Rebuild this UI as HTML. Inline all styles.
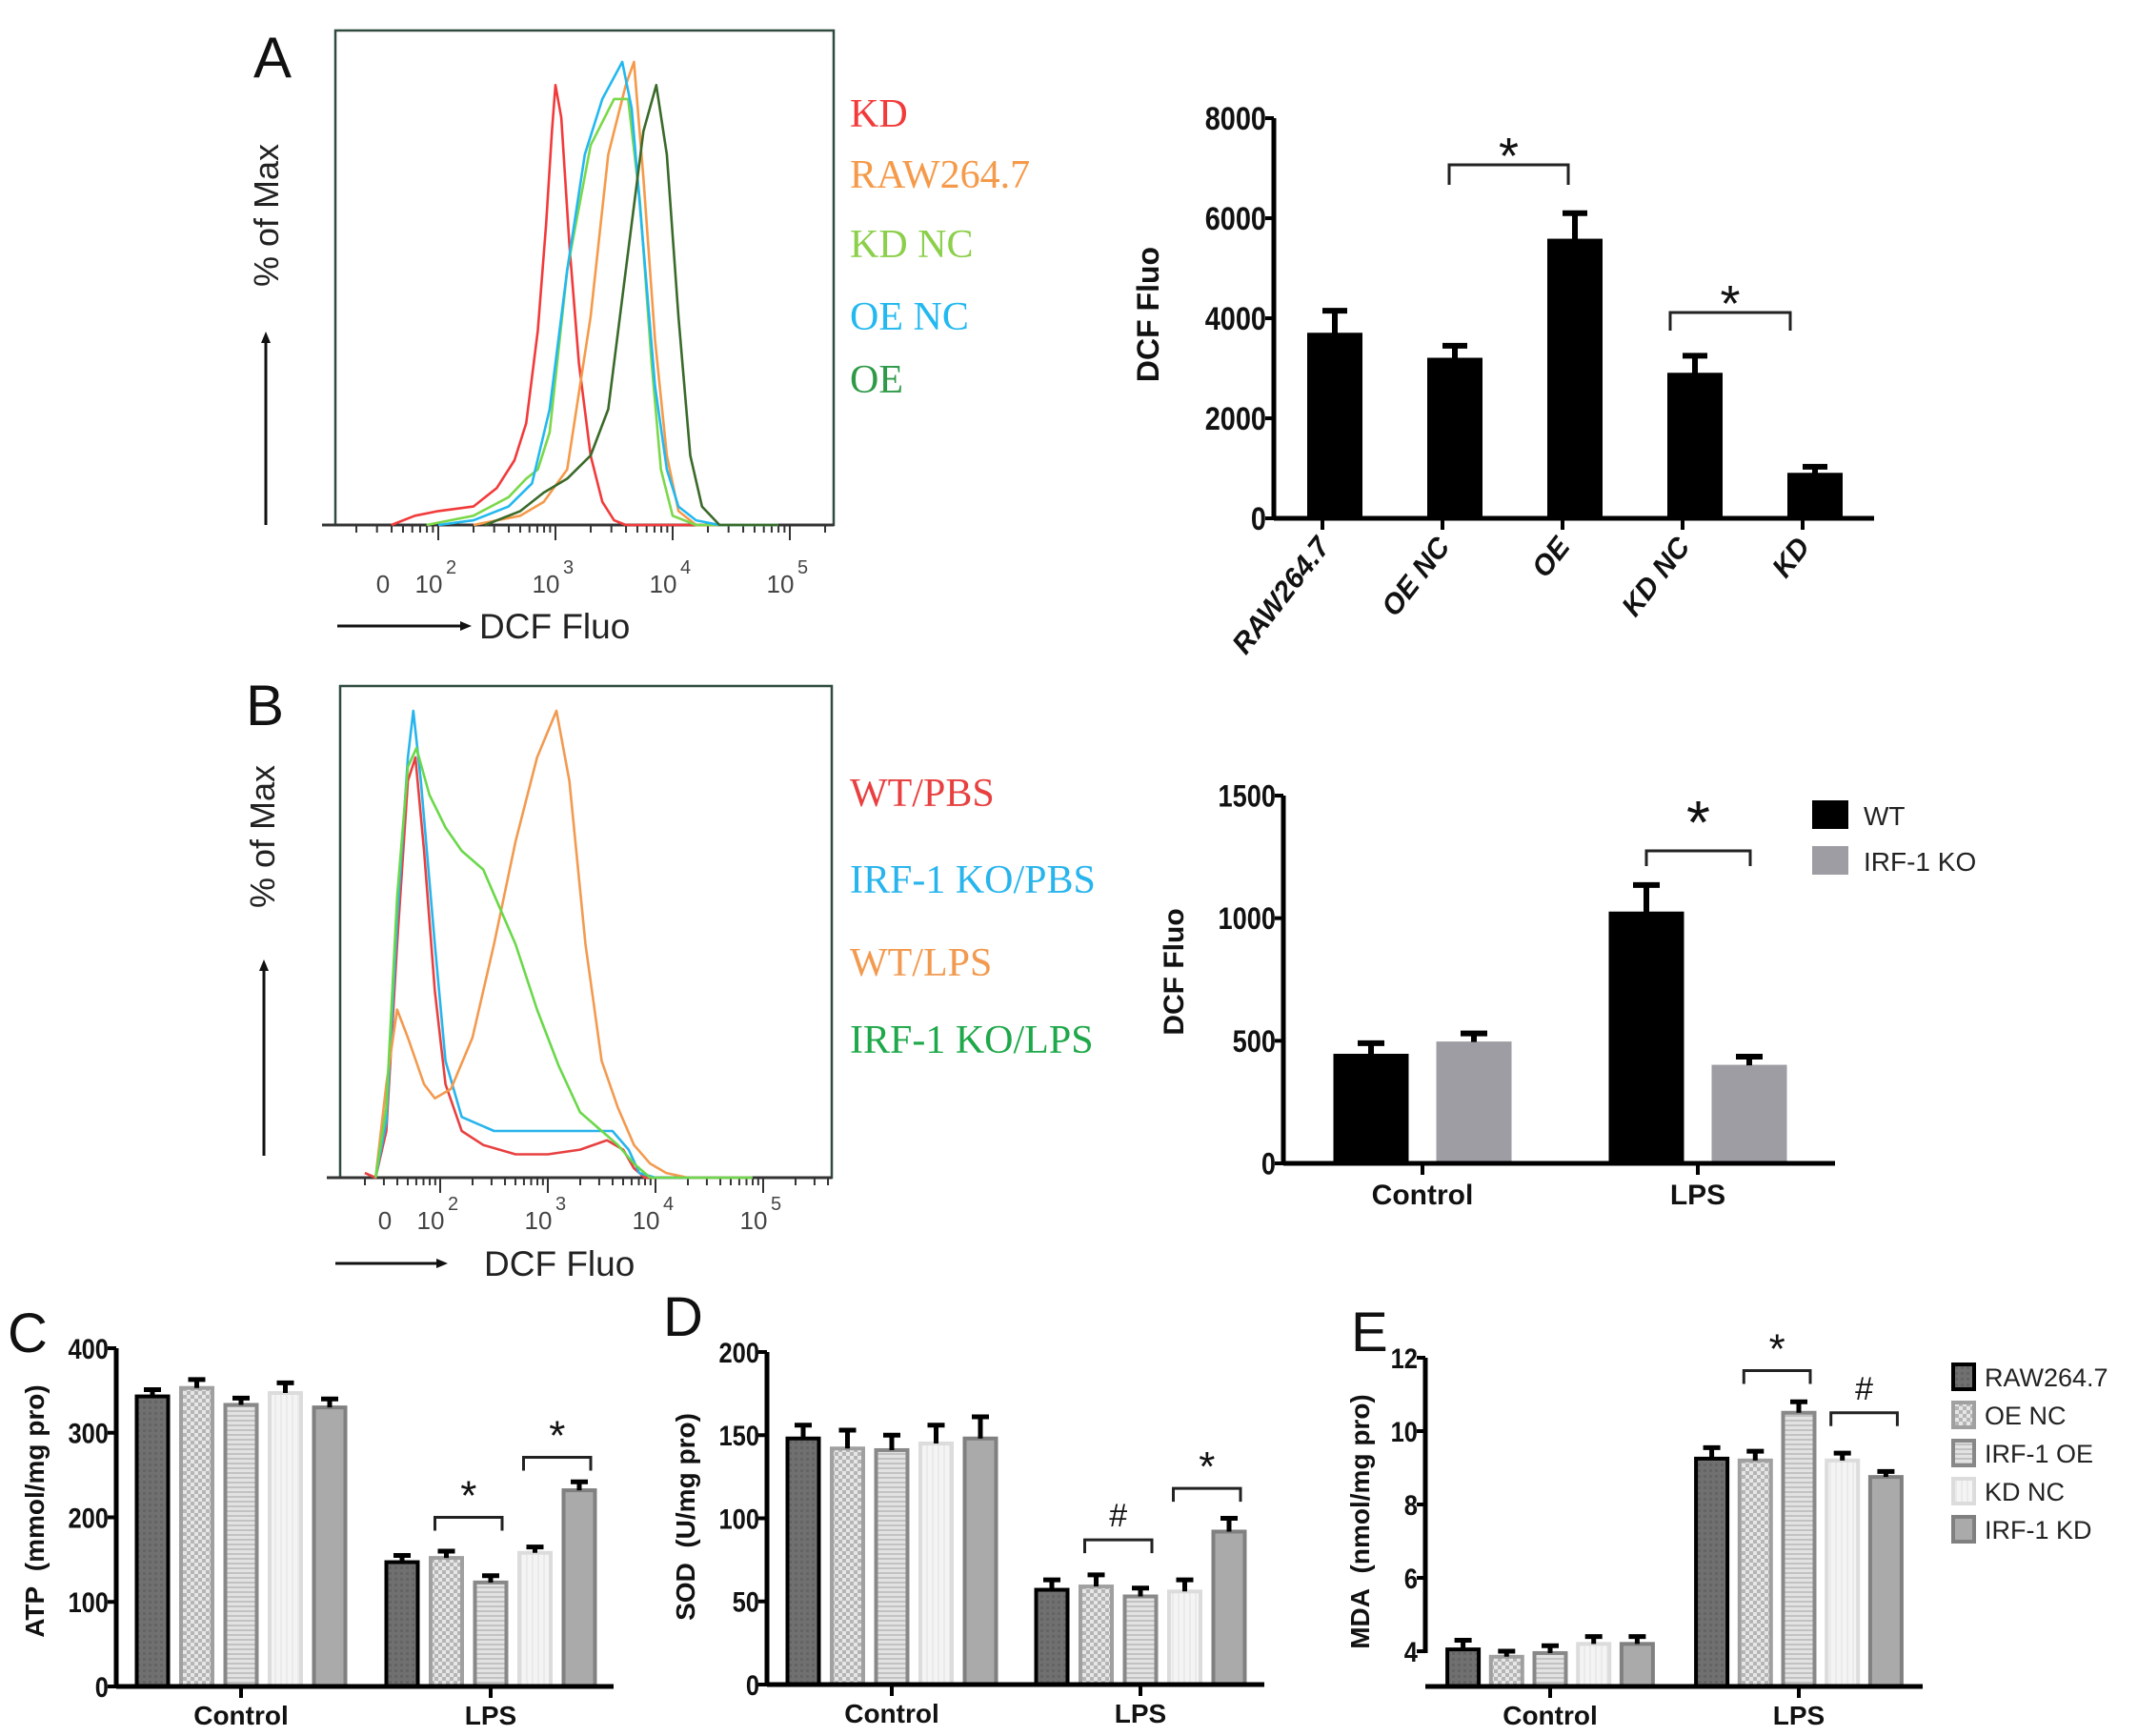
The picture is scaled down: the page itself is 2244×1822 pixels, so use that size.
<!DOCTYPE html>
<html><head><meta charset="utf-8">
<style>
html,body{margin:0;padding:0;background:#fff;}
svg{display:block;font-family:"Liberation Sans",Arial,sans-serif;}
</style></head>
<body>
<svg id="fig" width="2244" height="1822" viewBox="0 0 2244 1822" xmlns="http://www.w3.org/2000/svg">
<defs>
<pattern id="pChk" width="8" height="8" patternUnits="userSpaceOnUse"><rect width="8" height="8" fill="#e6e6e6"/><rect width="4" height="4" fill="#b5b5b5"/><rect x="4" y="4" width="4" height="4" fill="#b5b5b5"/></pattern>
<pattern id="pHor" width="6" height="5" patternUnits="userSpaceOnUse"><rect width="6" height="5" fill="#e2e2e2"/><rect y="0" width="6" height="2" fill="#c2c2c2"/></pattern>
<pattern id="pVer" width="6" height="6" patternUnits="userSpaceOnUse"><rect width="6" height="6" fill="#f4f4f4"/><rect width="2" height="6" fill="#eaeaea"/></pattern>
<pattern id="pDark" width="6" height="6" patternUnits="userSpaceOnUse"><rect width="6" height="6" fill="#707070"/><rect width="3" height="3" fill="#646464"/></pattern>
</defs>
<g id="root"></g>
</svg>
<script>
// ===== Panel A histogram data: [log10 value, % of max] =====
const histA_KD = [[1.6,0],[1.8,2],[2.0,3],[2.3,4],[2.5,8],[2.65,14],[2.75,22],[2.85,42],[2.92,65],[2.97,85],[3.0,95],[3.05,88],[3.12,60],[3.2,35],[3.3,15],[3.4,5],[3.5,1],[3.6,0],[4.9,0]];
const histA_RAW = [[2.3,0],[2.7,2],[2.9,5],[3.1,12],[3.3,45],[3.45,80],[3.6,95],[3.67,100],[3.75,75],[3.85,40],[3.95,15],[4.05,3],[4.2,0],[4.9,0]];
const histA_KDNC = [[1.9,0],[2.3,2],[2.6,6],[2.75,10],[2.85,12],[2.95,20],[3.1,55],[3.3,82],[3.5,92],[3.62,92],[3.72,70],[3.82,35],[3.9,12],[4.0,2],[4.2,0],[4.9,0]];
const histA_OENC = [[2.0,0],[2.3,1],[2.6,4],[2.8,9],[2.95,25],[3.1,55],[3.25,80],[3.4,92],[3.57,100],[3.65,90],[3.75,60],[3.85,30],[3.95,12],[4.05,4],[4.2,1],[4.4,0],[4.9,0]];
const histA_OE = [[2.4,0],[2.7,3],[2.9,7],[3.1,10],[3.3,15],[3.45,25],[3.6,55],[3.75,85],[3.86,95],[3.95,80],[4.05,45],[4.15,15],[4.25,4],[4.4,0],[4.9,0]];
const histA_labels = ["KD","RAW264.7","KD NC","OE NC","OE"];
// ===== Panel B histogram data =====
const histB_WTPBS = [[1.3,1],[1.4,0],[1.5,10],[1.6,50],[1.7,85],[1.77,90],[1.85,70],[1.95,40],[2.05,20],[2.2,10],[2.4,7],[2.7,5],[3.0,5],[3.3,6],[3.55,8],[3.7,6],[3.8,2],[3.9,0],[4.9,0]];
const histB_KOPBS = [[1.4,0],[1.5,12],[1.6,55],[1.7,90],[1.75,100],[1.82,85],[1.95,50],[2.05,25],[2.2,13],[2.5,10],[3.0,10],[3.4,10],[3.6,10],[3.75,6],[3.85,1],[4.0,0],[4.9,0]];
const histB_WTLPS = [[1.4,0],[1.5,20],[1.6,36],[1.7,30],[1.85,20],[1.95,17],[2.1,19],[2.3,30],[2.5,50],[2.7,72],[2.9,90],[3.08,100],[3.2,85],[3.35,50],[3.5,25],[3.65,15],[3.8,7],[3.95,3],[4.1,1],[4.3,0],[4.9,0]];
const histB_KOLPS = [[1.4,0],[1.5,15],[1.6,60],[1.7,88],[1.78,92],[1.9,82],[2.05,75],[2.2,70],[2.4,66],[2.55,58],[2.7,50],[2.9,36],[3.1,24],[3.3,14],[3.5,10],[3.65,7],[3.8,3],[3.95,0],[4.9,0]];
const histB_labels = ["WT/PBS","IRF-1 KO/PBS","WT/LPS","IRF-1 KO/LPS"];
const histDecades = [2,3,4,5];
// ===== Panel A bar chart =====
const barA_cats = ["RAW264.7","OE NC","OE","KD NC","KD"];
const barA_vals = [3700,3200,5580,2900,900];
const barA_errs = [450,250,520,350,130];
const barA_ticks = [0,2000,4000,6000,8000];
// ===== Panel B bar chart =====
const barB_groups = ["Control","LPS"];
const barB_WT = [445,1025];
const barB_KO = [495,400];
const barB_WTerr = [45,110];
const barB_KOerr = [35,35];
const barB_ticks = [0,500,1000,1500];
const barB_legend = ["WT","IRF-1 KO"];
// ===== Panel C/D/E =====
const groupCats = ["Control","LPS"];
const seriesNames = ["RAW264.7","OE NC","IRF-1 OE","KD NC","IRF-1 KD"];
const atpCtrl = [343,353,333,347,330];
const atpLps = [147,152,123,158,232];
const atpCtrlErr = [8,10,8,12,10];
const atpLpsErr = [8,8,8,7,10];
const atpTicks = [0,100,200,300,400];
const sodCtrl = [148,142,141,145,148];
const sodLps = [57,59,53,56,92];
const sodCtrlErr = [8,11,9,11,13];
const sodLpsErr = [6,7,5,7,8];
const sodTicks = [0,50,100,150,200];
const mdaCtrl = [4.05,3.85,3.95,4.2,4.2];
const mdaLps = [9.25,9.2,10.5,9.2,8.75];
const mdaCtrlErr = [0.25,0.15,0.2,0.2,0.2];
const mdaLpsErr = [0.3,0.25,0.3,0.2,0.15];
const mdaTicks = [4,6,8,10,12];

const NS="http://www.w3.org/2000/svg";
const root=document.getElementById('root');
function mk(tag,attrs,parent){const e=document.createElementNS(NS,tag);for(const k in attrs)e.setAttribute(k,attrs[k]);(parent||root).appendChild(e);return e;}
function txt(s,attrs,parent){const e=mk('text',attrs,parent);e.textContent=s;return e;}

// ---------- Histograms ----------
function histogram(cfg){
  const g=mk('g',{});
  
  
  const X=L=>cfg.x2 + (L-2)*cfg.dec;
  const Y=p=>cfg.base - p/100*cfg.h;
  const box=mk('rect',{x:cfg.bx,y:cfg.by,width:cfg.bw,height:cfg.base-cfg.by,fill:'none',stroke:'#2f4a3f','stroke-width':2.5},g);
  
  
  const ax=mk('line',{x1:cfg.bx-14,y1:cfg.base,x2:cfg.bx+cfg.bw,y2:cfg.base,stroke:'#333','stroke-width':3},g);
  
  
  const tg=mk('g',{},g);
  
  
  for(let d=1;d<=5;d++){for(let m=1;m<10;m++){const L=d+Math.log10(m);const x=X(L);if(x<cfg.bx+2||x>cfg.bx+cfg.bw)continue;
    mk('line',{x1:x,y1:cfg.base,x2:x,y2:cfg.base+(m===1?16:8),stroke:'#333','stroke-width':2},tg);}}
  const z=txt('0',{x:cfg.zeroX,y:cfg.lab,'font-size':26,fill:'#444','text-anchor':'middle'},g);
  
  
  histDecades.forEach(d=>{
    const t=txt('10',{x:X(d)-10,y:cfg.lab,'font-size':26,fill:'#444','text-anchor':'middle'},g);
    
    
    const s=txt(String(d),{x:X(d)+8,y:cfg.lab-20,'font-size':20,fill:'#444'},g);
    
    
  });
  cfg.series.forEach((sr,i)=>{
    const d=sr.data.map((p,j)=>(j?'L':'M')+X(p[0]).toFixed(1)+','+Y(p[1]).toFixed(1)).join(' ');
    const p=mk('path',{d:d,fill:'none',stroke:sr.color,'stroke-width':2.6,'stroke-linejoin':'round'},g);
    
    
    const l=txt(cfg.labels[i],{x:cfg.legX,y:cfg.legY[i],'font-size':42,fill:sr.lcolor||sr.color,'font-family':'"Liberation Serif",serif'},g);
    
    
  });
  const yl=txt('% of Max',{x:0,y:0,'font-size':36,fill:'#222','text-anchor':'middle',transform:`translate(${cfg.ylX},${cfg.ylY}) rotate(-90)`},g);
  
  
  const ya=mk('path',{d:`M${cfg.arrX},${cfg.arrY1} L${cfg.arrX},${cfg.arrY2+10}`,stroke:'#111','stroke-width':3},g);
  
  
  mk('path',{d:`M${cfg.arrX-5},${cfg.arrY2+12} L${cfg.arrX},${cfg.arrY2} L${cfg.arrX+5},${cfg.arrY2+12}Z`,fill:'#111'},g);
  const xa=mk('path',{d:`M${cfg.xaX1},${cfg.xaY} L${cfg.xaX2-10},${cfg.xaY}`,stroke:'#111','stroke-width':3},g);
  
  
  mk('path',{d:`M${cfg.xaX2-12},${cfg.xaY-5} L${cfg.xaX2},${cfg.xaY} L${cfg.xaX2-12},${cfg.xaY+5}Z`,fill:'#111'},g);
  const xt=txt('DCF Fluo',{x:cfg.xtX,y:cfg.xaY+13,'font-size':37,fill:'#222'},g);
  
  
  const pl=txt(cfg.letter,{x:cfg.letX,y:cfg.letY,'font-size':60,fill:'#111'},g);
  
  
}
histogram({name:'histogram-panel-a',letter:'A',letX:266,letY:81,bx:352,by:32,bw:523,base:551,h:486,x2:460,dec:123,zeroX:402,lab:622,
  series:[{key:'kd',color:'#f23a3a',data:histA_KD},{key:'raw264-7',color:'#f59a4a',data:histA_RAW},{key:'kd-nc',color:'#7ad84a',lcolor:'#8ccf4a',data:histA_KDNC},{key:'oe-nc',color:'#22b8f0',data:histA_OENC},{key:'oe',color:'#3a6a2a',lcolor:'#2e9a48',data:histA_OE}],
  labels:histA_labels,legX:892,legY:[133,197,270,346,412],
  ylX:292,ylY:226,arrX:279,arrY1:551,arrY2:348,xaX1:354,xaX2:495,xaY:657,xtX:503});
histogram({name:'histogram-panel-b',letter:'B',letX:258,letY:761,bx:357,by:720,bw:516,base:1236,h:490,x2:462,dec:113,zeroX:404,lab:1290,
  series:[{key:'wt-pbs',color:'#e84040',data:histB_WTPBS},{key:'irf1-ko-pbs',color:'#28b4ec',data:histB_KOPBS},{key:'wt-lps',color:'#f29a50',data:histB_WTLPS},{key:'irf1-ko-lps',color:'#6ad84a',lcolor:'#1fa84a',data:histB_KOLPS}],
  labels:histB_labels,legX:892,legY:[846,937,1024,1105],
  ylX:288,ylY:878,arrX:277,arrY1:1213,arrY2:1007,xaX1:352,xaX2:470,xaY:1326,xtX:508});
// ---------- Bar chart helpers ----------
function axisY(g,x,yOf,ticks,fs,fmt){
  const a=mk('line',{x1:x,y1:yOf(ticks[0])+2,x2:x,y2:yOf(ticks[ticks.length-1]),stroke:'#000','stroke-width':5},g);
  
  
  ticks.forEach(t=>{
    mk('line',{x1:x-9,y1:yOf(t),x2:x,y2:yOf(t),stroke:'#000','stroke-width':4},g);
    const l=txt(fmt?fmt(t):String(t),{x:x-8,y:yOf(t)+fs*0.36,'font-size':fs,'font-weight':'bold','text-anchor':'end',fill:'#111',transform:`translate(${x-8},0) scale(0.85,1) translate(${-(x-8)},0)`},g);
    
    
  });
}
function bar(g,cx,w,y0,y1,fill,stroke,sw,name){
  const r=mk('rect',{x:cx-w/2,y:Math.min(y0,y1),width:w,height:Math.abs(y0-y1),fill:fill,stroke:stroke,'stroke-width':sw},g);
  
  
  return r;
}
function errbar(g,cx,yv,ye,cap,sw){
  const e=mk('path',{d:`M${cx},${yv} L${cx},${ye} M${cx-cap},${ye} L${cx+cap},${ye}`,stroke:'#000','stroke-width':sw,fill:'none'},g);
  
  
}
function bracket(g,x1,x2,y,drop,sym,symY,fs){
  const b=mk('path',{d:`M${x1},${y+drop} L${x1},${y} L${x2},${y} L${x2},${y+drop}`,stroke:'#222','stroke-width':3,fill:'none'},g);
  
  
  const s=txt(sym,{x:(x1+x2)/2,y:symY,'font-size':fs,'text-anchor':'middle',fill:'#111'},g);
  
  
}

// ---------- Panel A bar chart ----------
(function(){
  const g=mk('g',{});
  
  
  const y0=544,yTop=124,vmax=8000;
  const yOf=v=>y0-(v/vmax)*(y0-yTop);
  const xAx=1337, step=126, first=1401;
  const xOf=i=>first+i*step;
  barA_cats.forEach((c,i)=>{
    bar(g,xOf(i),57,yOf(0),yOf(barA_vals[i]),'#000','#000',1,'bar-'+c.toLowerCase().replace(/[^a-z0-9]+/g,'-'));
    errbar(g,xOf(i),yOf(barA_vals[i]),yOf(barA_vals[i]+barA_errs[i]),13,6);
  });
  const xa=mk('line',{x1:xAx,y1:y0,x2:1967,y2:y0,stroke:'#000','stroke-width':5},g);
  
  
  axisY(g,xAx,yOf,barA_ticks,34);
  barA_cats.forEach((c,i)=>{
    mk('line',{x1:xOf(i)-13,y1:y0,x2:xOf(i)-13,y2:y0+12,stroke:'#000','stroke-width':4},g);
    const t=txt(c,{x:0,y:0,'font-size':30,'font-weight':'bold','font-style':'italic','text-anchor':'end',fill:'#111',transform:`translate(${xOf(i)-4},${y0+30}) rotate(-52)`},g);
    
    
  });
  const yt=txt('DCF Fluo',{x:0,y:0,'font-size':32,'font-weight':'bold','text-anchor':'middle',fill:'#111',transform:`translate(1216,330) rotate(-90)`},g);
  
  
  bracket(g,xOf(1)-6,xOf(2)-7,173,21,'*',182,54);
  bracket(g,xOf(3)-26,xOf(4)-26,328,19,'*',337,54);
})();

// ---------- Panel B bar chart ----------
(function(){
  const g=mk('g',{});
  
  
  const y0=1221,yTop=835,vmax=1500;
  const yOf=v=>y0-(v/vmax)*(y0-yTop);
  const gx=[1493,1782];
  barB_groups.forEach((c,i)=>{
    bar(g,gx[i]-54,78,yOf(0),yOf(barB_WT[i]),'#000','#000',1,'bar-wt-'+c.toLowerCase());
    errbar(g,gx[i]-54,yOf(barB_WT[i]),yOf(barB_WT[i]+barB_WTerr[i]),14,6);
    bar(g,gx[i]+54,78,yOf(0),yOf(barB_KO[i]),'#9d9da3','#9d9da3',1,'bar-irf1-ko-'+c.toLowerCase());
    errbar(g,gx[i]+54,yOf(barB_KO[i]),yOf(barB_KO[i]+barB_KOerr[i]),14,6);
  });
  const xa=mk('line',{x1:1347,y1:y0,x2:1926,y2:y0,stroke:'#000','stroke-width':5},g);
  
  
  axisY(g,1347,yOf,barB_ticks,32);
  barB_groups.forEach((c,i)=>{
    mk('line',{x1:gx[i],y1:y0,x2:gx[i],y2:y0+12,stroke:'#000','stroke-width':4},g);
    const t=txt(c,{x:gx[i],y:y0+43,'font-size':30,'font-weight':'bold','text-anchor':'middle',fill:'#111'},g);
    
    
  });
  const yt=txt('DCF Fluo',{x:0,y:0,'font-size':30,'font-weight':'bold','text-anchor':'middle',fill:'#111',transform:`translate(1242,1020) rotate(-90)`},g);
  
  
  bracket(g,1728,1837,893,16,'*',885,64);
  const cols=['#000','#9d9da3'];
  barB_legend.forEach((n,i)=>{
    const r=mk('rect',{x:1902,y:840+i*48,width:38,height:30,fill:cols[i]},g);
    
    
    const t=txt(n,{x:1956,y:866+i*48,'font-size':28,fill:'#222'},g);
    
    
  });
})();

// ---------- C / D / E grouped bar charts ----------
const fills=['url(#pDark)','url(#pChk)','url(#pHor)','url(#pVer)','#aaaaaa'];
const strokes=['#000','#a0a0a0','#888','#dcdcdc','#808080'];
function grouped(cfg){
  const g=mk('g',{});
  
  
  const yOf=v=>cfg.y0-((v-cfg.vmin)/(cfg.vmax-cfg.vmin))*(cfg.y0-cfg.yTop);
  [cfg.ctrl,cfg.lps].forEach((vals,gi)=>{
    const errs=gi?cfg.lpsErr:cfg.ctrlErr;
    vals.forEach((v,i)=>{
      const cx=cfg.gx[gi]+(i-2)*cfg.step;
      bar(g,cx,cfg.w,yOf(cfg.vmin),yOf(v),fills[i],strokes[i],4,'bar-'+groupCats[gi].toLowerCase()+'-'+seriesNames[i].toLowerCase().replace(/[^a-z0-9]+/g,'-'));
      errbar(g,cx,yOf(v),yOf(v+errs[i]),9,5);
    });
  });
  const xa=mk('line',{x1:cfg.ax,y1:cfg.y0,x2:cfg.xEnd,y2:cfg.y0,stroke:'#000','stroke-width':5},g);
  
  
  axisY(g,cfg.ax,yOf,cfg.ticks,30);
  groupCats.forEach((c,i)=>{
    mk('line',{x1:cfg.gx[i],y1:cfg.y0,x2:cfg.gx[i],y2:cfg.y0+12,stroke:'#000','stroke-width':4},g);
    const t=txt(c,{x:cfg.gx[i],y:cfg.y0+40,'font-size':28,'font-weight':'bold','text-anchor':'middle',fill:'#111'},g);
    
    
  });
  const yt=txt(cfg.title,{x:0,y:0,'font-size':28,'font-weight':'bold','text-anchor':'middle',fill:'#111',transform:`translate(${cfg.tX},${cfg.tY}) rotate(-90)`},g);
  
  
  const pl=txt(cfg.letter,{x:cfg.letX,y:cfg.letY,'font-size':58,fill:'#111'},g);
  
  
  cfg.brackets.forEach(b=>{
    const x1=cfg.gx[1]+(b[0]-2)*cfg.step-12, x2=cfg.gx[1]+(b[1]-2)*cfg.step+12;
    bracket(g,x1,x2,yOf(b[2]),14,b[3],yOf(b[2])-(b[3]==='*'?8:14),b[3]==='*'?44:34);
  });
}
grouped({name:'bar-chart-atp',letter:'C',letX:8,letY:1419,ax:122,y0:1770,yTop:1415,vmin:0,vmax:400,ticks:atpTicks,
  gx:[253,515],step:46.5,w:33,xEnd:644,ctrl:atpCtrl,lps:atpLps,ctrlErr:atpCtrlErr,lpsErr:atpLpsErr,
  title:'ATP\u00a0\u00a0(mmol/mg pro)',tX:46,tY:1586,brackets:[[1,2,200,'*'],[3,4,271,'*']]});
grouped({name:'bar-chart-sod',letter:'D',letX:696,letY:1402,ax:805,y0:1768,yTop:1419,vmin:0,vmax:200,ticks:sodTicks,
  gx:[936,1197],step:46.5,w:33,xEnd:1327,ctrl:sodCtrl,lps:sodLps,ctrlErr:sodCtrlErr,lpsErr:sodLpsErr,
  title:'SOD\u00a0\u00a0(U/mg pro)',tX:729,tY:1592,brackets:[[1,2,87,'#'],[3,4,118,'*']]});
grouped({name:'bar-chart-mda',letter:'E',letX:1418,letY:1418,ax:1496,y0:1770,yTop:1425,vmin:3.04,vmax:12,ticks:mdaTicks,
  gx:[1627,1888],step:45.7,w:33,xEnd:2018,ctrl:mdaCtrl,lps:mdaLps,ctrlErr:mdaCtrlErr,lpsErr:mdaLpsErr,
  title:'MDA\u00a0\u00a0(nmol/mg pro)',tX:1437,tY:1597,brackets:[[1,2,11.65,'*'],[3,4,10.5,'#']]});
(function(){
  const g=mk('g',{});
  
  
  seriesNames.forEach((n,i)=>{
    const y=1432+i*40;
    const r=mk('rect',{x:2050,y:y,width:22,height:26,fill:fills[i],stroke:strokes[i],'stroke-width':4},g);
    
    
    const t=txt(n,{x:2083,y:y+23,'font-size':27,fill:'#222'},g);
    
    
  });
})();
</script>
</body></html>
